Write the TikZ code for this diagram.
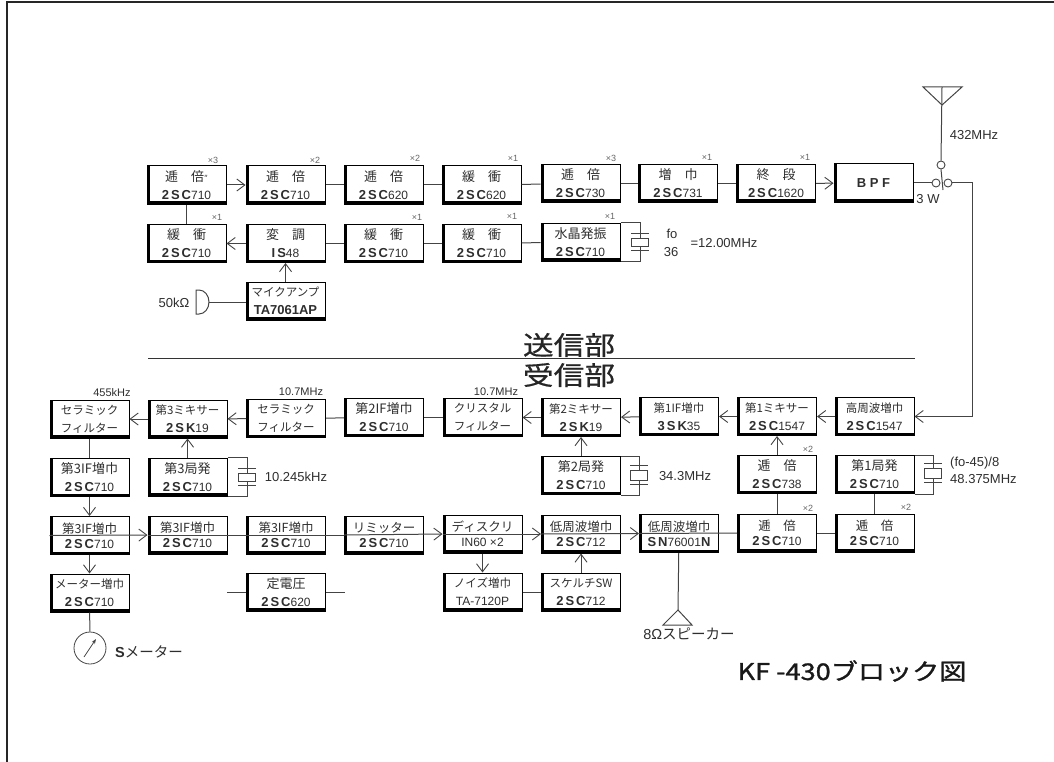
\documentclass[tikz,border=0pt]{standalone}
\usepackage{fontspec}
\usetikzlibrary{arrows.meta, positioning, calc}
\setmainfont{Noto Sans CJK JP}
\newfontfamily\partfont{Liberation Sans}
\newfontfamily\partwide[LetterSpace=15]{Liberation Sans}
\newfontfamily\headfont[FakeStretch=1.18,FakeBold=0.6]{Noto Sans CJK JP}
\newfontfamily\titlefont[FakeStretch=1.18,FakeBold=1.2]{Noto Sans CJK JP}
\definecolor{scanInk}{HTML}{2E2E2E}
\definecolor{wireInk}{HTML}{444444}
\newcommand{\pn}[2]{{\fontsize{13}{18}\selectfont\partwide\bfseries #1}{\fontsize{12}{18}\selectfont\partfont #2}}
\newcommand{\pnb}[1]{{\fontsize{13}{18}\selectfont\partfont\bfseries #1}}
\newcommand{\xplates}[1]{\draw[xtalwire] ([shift={(-9pt,4pt)}]#1.north) -- ([shift={(9pt,4pt)}]#1.north)
  ([shift={(-9pt,-4pt)}]#1.south) -- ([shift={(9pt,-4pt)}]#1.south);}
\tikzset{
  blockbox/.style={draw=black, line width=1pt, text=scanInk, inner sep=0pt, align=center,
    minimum width=79pt, minimum height=38pt, font=\fontsize{13}{18}\selectfont,
    path picture={
      \draw[line width=6pt] (path picture bounding box.south west) -- (path picture bounding box.south east);
      \draw[line width=5pt] (path picture bounding box.south west) -- (path picture bounding box.north west);
    }},
  kanabox/.style={blockbox, font=\fontsize{11.5}{18}\selectfont},
  tightbox/.style={blockbox, font=\fontsize{12.5}{15}\selectfont},
  strikebox/.style={tightbox, execute at begin node={\rule{0pt}{16pt}}},
  wire/.style={draw=wireInk, line width=1pt},
  sigarrow/.style={wire, -{Straight Barb[length=8pt,width=12pt,line width=.9pt]}},
  xtalwire/.style={draw=wireInk, line width=1pt},
  xtalbox/.style={draw=wireInk, line width=1pt, fill=white, minimum width=17pt, minimum height=8pt, inner sep=0pt},
  swpoint/.style={circle, draw=wireInk, line width=.9pt, minimum size=8pt, inner sep=0pt},
  multlabel/.style={font=\partfont\fontsize{9}{10}\selectfont, text=black!60},
  freqlabel/.style={font=\partfont\fontsize{13}{15}\selectfont, text=scanInk, inner sep=0pt},
  topfreq/.style={font=\partfont\fontsize{11}{13}\selectfont, text=scanInk, inner sep=0pt},
  kanalabel/.style={font=\fontsize{14.5}{16}\selectfont, text=scanInk, inner sep=0pt}
}
\begin{document}
\begin{tikzpicture}[x=1pt, y=-1pt]
  \useasboundingbox (0,0) rectangle (1054,762);
  \draw[line width=2.4pt, black!85] (7,762) -- (7,2) -- (1054,2);

  \node[blockbox] (tA) at (186.5,185) {逓　倍{\fontsize{8}{8}\selectfont ″}\\\pn{2SC}{710}};
  \node[blockbox] (tB) at (285.5,185) {逓　倍\\\pn{2SC}{710}};
  \node[blockbox] (tC) at (383.5,185) {逓　倍\\\pn{2SC}{620}};
  \node[blockbox] (tD) at (481.5,185) {緩　衝\\\pn{2SC}{620}};
  \node[blockbox] (tE) at (580.5,183.5) {逓　倍\\\pn{2SC}{730}};
  \node[blockbox] (tF) at (678,183.5) {増　巾\\\pn{2SC}{731}};
  \node[blockbox] (tG) at (776,183.5) {終　段\\\pn{2SC}{1620}};
  \node[blockbox] (bpf) at (873.5,183) {\pnb{B P F}};

  \node[blockbox] (uA) at (186.5,243.5) {緩　衝\\\pn{2SC}{710}};
  \node[blockbox] (uB) at (285.5,243.5) {変　調\\\pn{IS}{48}};
  \node[blockbox] (uC) at (383.5,243.5) {緩　衝\\\pn{2SC}{710}};
  \node[blockbox] (uD) at (481.5,243.5) {緩　衝\\\pn{2SC}{710}};
  \node[blockbox] (uE) at (580.5,242) {水晶発振\\\pn{2SC}{710}};
  \node[kanabox] (mic) at (285.5,301) {マイクアンプ\\\pnb{TA7061AP}};

  \node[kanabox] (rA) at (89.5,419) {セラミック\\フィルター};
  \node[kanabox] (rB) at (187.5,419) {第3ミキサー\\\pn{2SK}{19}};
  \node[kanabox] (rC) at (286,418.5) {セラミック\\フィルター};
  \node[blockbox] (rD) at (384,417.5) {第2IF増巾\\\pn{2SC}{710}};
  \node[kanabox] (rE) at (482.5,417.5) {クリスタル\\フィルター};
  \node[kanabox] (rF) at (581,417.5) {第2ミキサー\\\pn{2SK}{19}};
  \node[kanabox] (rG) at (679,416.5) {第1IF増巾\\\pn{3SK}{35}};
  \node[kanabox] (rH) at (777,416.5) {第1ミキサー\\\pn{2SC}{1547}};
  \node[kanabox] (rI) at (874.5,416.5) {高周波増巾\\\pn{2SC}{1547}};

  \node[blockbox] (sA) at (89.5,477.5) {第3IF増巾\\\pn{2SC}{710}};
  \node[blockbox] (sB) at (187.5,477) {第3局発\\\pn{2SC}{710}};
  \node[blockbox] (sF) at (581,475.5) {第2局発\\\pn{2SC}{710}};
  \node[blockbox] (sH) at (777,474.5) {逓　倍\\\pn{2SC}{738}};
  \node[blockbox] (sI) at (874.5,474.5) {第1局発\\\pn{2SC}{710}};

  \node[strikebox] (vA) at (89.5,535.5) {第3IF増巾\\\pn{2SC}{710}};
  \node[strikebox] (vB) at (187.5,535) {第3IF増巾\\\pn{2SC}{710}};
  \node[strikebox] (vC) at (286,535) {第3IF増巾\\\pn{2SC}{710}};
  \node[strikebox] (vD) at (384,535) {リミッター\\\pn{2SC}{710}};
  \node[strikebox] (vE) at (482.5,534) {ディスクリ\\{\fontsize{12}{15}\selectfont\partfont IN60 ×2}};
  \node[strikebox] (vF) at (581,534) {低周波増巾\\\pn{2SC}{712}};
  \node[strikebox] (vG) at (679,533.5) {低周波増巾\\\pn{SN}{76001}\pnb{N}};
  \node[tightbox] (vH) at (777,533) {逓　倍\\\pn{2SC}{710}};
  \node[tightbox] (vI) at (874.5,533) {逓　倍\\\pn{2SC}{710}};

  \node[kanabox] (wA) at (89.5,593) {メーター増巾\\\pn{2SC}{710}};
  \node[blockbox] (wC) at (286,592) {定電圧\\\pn{2SC}{620}};
  \node[kanabox] (wE) at (482.5,592) {ノイズ増巾\\{\fontsize{12}{18}\selectfont\partfont TA-7120P}};
  \node[kanabox] (wF) at (581,592) {スケルチSW\\\pn{2SC}{712}};

  \draw[sigarrow] (tA) -- (tB);
  \draw[wire] (tB) -- (tC);
  \draw[wire] (tC) -- (tD);
  \draw[wire] (tD) -- (tE);
  \draw[wire] (tE) -- (tF);
  \draw[wire] (tF) -- (tG);
  \draw[sigarrow] (tG) -- (bpf);
  \draw[wire] (uA) -- (tA);
  \draw[sigarrow] (uB) -- (uA);
  \draw[wire] (uC) -- (uB);
  \draw[wire] (uD) -- (uC);
  \draw[wire] (uE) -- (uD);
  \draw[sigarrow] (mic) -- (uB);

  \coordinate (micEar) at (209,302);
  \draw[wire] (micEar) -- (mic.west |- micEar);
  \draw[line width=1pt, wireInk] (196,290) -- (199,290) arc[start angle=-90, end angle=90, x radius=10, y radius=12] -- (196,314) -- cycle;
  \node[freqlabel] (micOhm) at (174,303) {50kΩ};

  \node[swpoint] (swAnt) at (941,165) {};
  \node[swpoint] (swIn) at (936,183) {};
  \node[swpoint] (swOut) at (948,183) {};
  \coordinate (antTip) at (942,105);
  \coordinate (antTop) at (942,87);
  \draw[wire] (923,87) -- (962,87) -- (antTip) -- cycle;
  \draw[wire] (antTop) -- (swAnt.north);
  \draw[wire] (swAnt.south) -- (943,190);
  \draw[wire] (bpf.east |- swIn) -- (swIn.west);
  \coordinate (rfTurn) at (972,183);
  \draw[sigarrow] (swOut.east) -- (rfTurn) -- (rfTurn |- rI.east) -- (rI.east);
  \node[freqlabel] (antFreq) at (974,135) {432MHz};
  \node[freqlabel] (bpfPower) at (928,199) {3 W};

  \node[xtalbox] (xA) at (640,242) {};
  \xplates{xA}
  \draw[xtalwire] (uE.north east) -| (xA.north);
  \draw[xtalwire] (uE.south east) -| (xA.south);
  \node[freqlabel] (foTop) at (672,234) {fo};
  \node[freqlabel] (foBot) at (671,252) {36};
  \node[freqlabel] (foVal) at (724,243) {=12.00MHz};

  \draw[sigarrow] (rB) -- (rA);
  \draw[sigarrow] (rC) -- (rB);
  \draw[wire] (rD) -- (rC);
  \draw[wire] (rE) -- (rD);
  \draw[sigarrow] (rF) -- (rE);
  \draw[sigarrow] (rG) -- (rF);
  \draw[sigarrow] (rH) -- (rG);
  \draw[sigarrow] (rI) -- (rH);
  \draw[wire] (rA) -- (sA);
  \draw[sigarrow] (sA) -- (vA);
  \draw[sigarrow] (vA) -- (wA);
  \draw[sigarrow] (sB) -- (rB);
  \draw[sigarrow] (sF) -- (rF);
  \draw[sigarrow] (sH) -- (rH);
  \draw[wire] (vH) -- (sH);
  \draw[wire] (vI) -- (sI);

  \draw[sigarrow] (vA.west) -- (vB.west);
  \draw[wire] (vB.west) -- (vC.west);
  \draw[wire] (vC.west) -- (vD.west);
  \draw[sigarrow] (vD.west) -- (vE.west);
  \draw[sigarrow] (vE.west) -- (vF.west);
  \draw[sigarrow] (vF.west) -- (vG.west);
  \draw[wire] (vG.west) -- (vH.west);
  \draw[wire] (vH.east) -- (vI.west);
  \draw[sigarrow] (vE) -- (wE);
  \draw[sigarrow] (wF) -- (vF);
  \draw[wire] (wE) -- (wF);

  \coordinate (stubL) at (227,592);
  \coordinate (stubR) at (345,592);
  \draw[wire] (stubL) -- (wC.west);
  \draw[wire] (wC.east) -- (stubR);

  \node[xtalbox] (xC) at (247,477) {};
  \xplates{xC}
  \draw[xtalwire] (sB.north east) -| (xC.north);
  \draw[xtalwire] (sB.south east) -| (xC.south);
  \node[xtalbox, minimum height=10pt] (xF) at (639,475) {};
  \xplates{xF}
  \draw[xtalwire] (sF.north east) -| (xF.north);
  \draw[xtalwire] (sF.south east) -| (xF.south);
  \node[xtalbox, minimum height=10pt] (xI) at (933,473) {};
  \xplates{xI}
  \draw[xtalwire] (sI.north east) -| (xI.north);
  \draw[xtalwire] (sI.south east) -| (xI.south);

  \node[circle, draw=wireInk, line width=.8pt, minimum size=32pt, inner sep=0pt] (meter) at (90,648) {};
  \draw[wire] (wA) -- (meter);
  \draw[line width=.8pt, wireInk, -{Stealth[length=5pt]}] (84,657) -- (96,639);
  \node[kanalabel] (meterTxt) at (149,652) {\partfont\bfseries S\normalfont\rmfamily メーター};

  \coordinate (spkTip) at (678,610);
  \draw[wire] (vG) -- (spkTip);
  \draw[wire] (spkTip) -- (692,625) -- (663,625) -- cycle;
  \node[kanalabel] (spkTxt) at (689,634) {{\partfont 8Ω}スピーカー};

  \node[topfreq] (fA) at (112,393) {455kHz};
  \node[topfreq] (fC) at (301,392) {10.7MHz};
  \node[topfreq] (fE) at (496,392) {10.7MHz};
  \node[freqlabel] (fB) at (296,477) {10.245kHz};
  \node[freqlabel] (fF) at (685,476) {34.3MHz};
  \node[freqlabel, anchor=west] (fIa) at (950,463) {(fo-45)/8};
  \node[freqlabel, anchor=west] (fIb) at (950,479) {48.375MHz};

  \node[multlabel] at (213,160) (mA) {×3};
  \node[multlabel] at (315,160) (mB) {×2};
  \node[multlabel] at (415,158) (mC) {×2};
  \node[multlabel] at (513,158) (mD) {×1};
  \node[multlabel] at (611,158) (mE) {×3};
  \node[multlabel] at (707,157) (mF) {×1};
  \node[multlabel] at (805,157) (mG) {×1};
  \node[multlabel] at (217,217) (nA) {×1};
  \node[multlabel] at (417,217) (nC) {×1};
  \node[multlabel] at (512,216) (nD) {×1};
  \node[multlabel] at (610,216) (nE) {×1};
  \node[multlabel] at (808,449) (pH) {×2};
  \node[multlabel] at (808,508) (qH) {×2};
  \node[multlabel] at (906,507) (qI) {×2};

  \draw[line width=1pt, black!80] (148,358) -- (915,358);
  \node[font=\headfont\fontsize{26}{30}\selectfont, text=black!85, inner sep=0pt] (txHead) at (569,345) {送信部};
  \node[font=\headfont\fontsize{26}{30}\selectfont, text=black!85, inner sep=0pt] (rxHead) at (569,375) {受信部};
  \node[font=\titlefont\fontsize{23}{26}\selectfont, text=black!90, inner sep=0pt] (figTitle) at (852,671) {KF -430ブロック図};
\end{tikzpicture}
\end{document}
